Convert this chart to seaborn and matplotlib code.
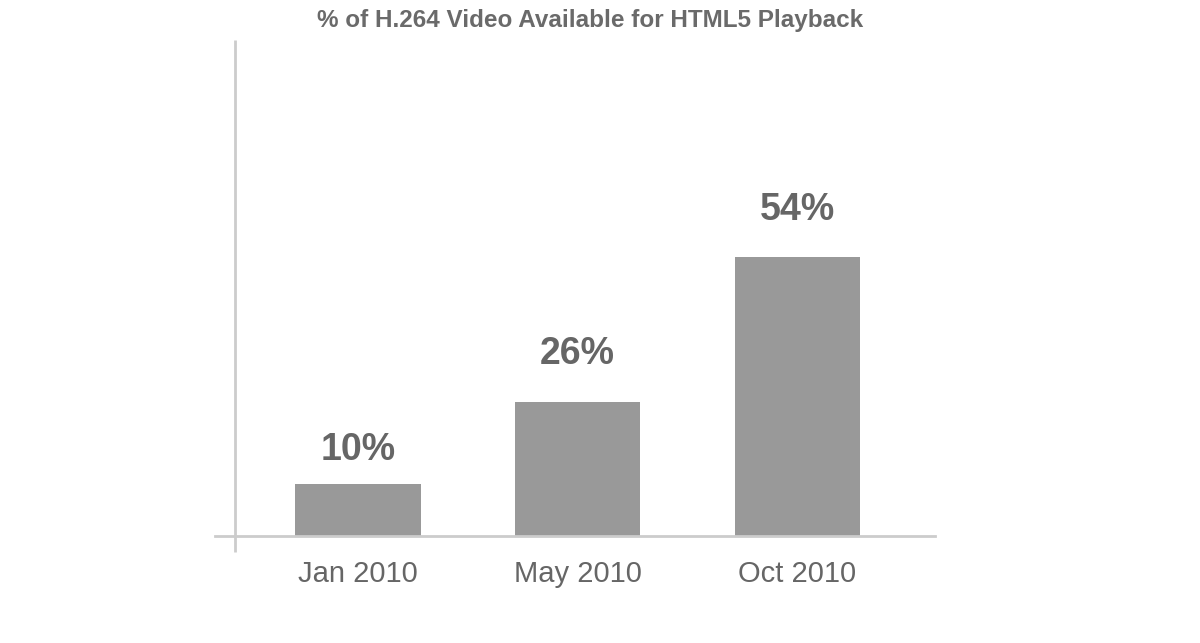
import matplotlib
matplotlib.use("Agg")
import matplotlib.pyplot as plt
import seaborn as sns
import pandas as pd

categories = ["Jan 2010", "May 2010", "Oct 2010"]
values = [10, 26, 54]
value_labels = ["10%", "26%", "54%"]
title = "% of H.264 Video Available for HTML5 Playback"

sns.set_style("white")
plt.rcParams['font.family'] = ['Liberation Sans', 'DejaVu Sans']

df = pd.DataFrame({"period": categories, "share": values})

W, H = 1200, 643
fig = plt.figure(figsize=(12, 6.43), dpi=100)
# axes spans the x-axis line (215..935 px) and from baseline (536) to top of y-axis (40)
ax = fig.add_axes([215 / W, (H - 536) / H, (935 - 215) / W, (536 - 40) / H])

sns.barplot(data=df, x="period", y="share", color="#999999", saturation=1,
            width=0.57, ax=ax, order=categories, linewidth=0)

ax.set_xlim(-0.651, 2.628)
ax.set_ylim(0, 96)

for s in ["top", "right", "left"]:
    ax.spines[s].set_visible(False)
ax.spines["bottom"].set_color("#cccccc")
ax.spines["bottom"].set_linewidth(2)

# y-axis line (extends slightly below baseline)
yx = (235 - 215) / (935 - 215)
ax.plot([yx, yx], [-16 / 496, 1.0], transform=ax.transAxes, color="#cccccc",
        lw=2, clip_on=False, solid_capstyle="butt")

ax.set_yticks([])
ax.tick_params(axis="x", length=0, pad=17, labelsize=21, labelcolor="#666666")
ax.set_xlabel("")
ax.set_ylabel("")

gaps = [12, 21, 21]
for i, (v, lab) in enumerate(zip(values, value_labels)):
    ax.annotate(lab, (i, v), xytext=(0, gaps[i]), textcoords="offset points",
                ha="center", va="bottom", fontsize=27, fontweight="bold",
                color="#666666")

fig.text(590 / W, 1 - 20 / H, title, ha="center", va="center",
         fontsize=17.5, fontweight="bold", color="#6a6a6a")

fig.savefig("out.png", dpi=100, facecolor="white")
